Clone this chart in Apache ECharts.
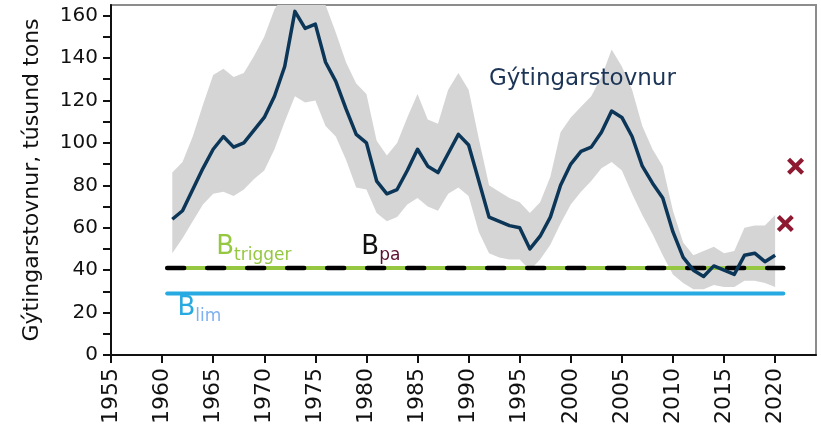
<!DOCTYPE html>
<html>
<head>
<meta charset="utf-8">
<script src="https://cdn.jsdelivr.net/npm/echarts@6/dist/echarts.min.js"></script>
<style>
html,body{margin:0;padding:0;background:#fff;}
#chart{width:821px;height:430px;}
</style>
</head>
<body>
<div id="chart"></div>
<script>
// ---- data ----
const years = [];
for (let y = 1961; y <= 2020; y++) years.push(y);

const biomass = [64,68,78,88,97,103,98,100,106,112,122,136,162,154,156,138,129,116,104,100,
  82,76,78,87,97,89,86,95,104,99,82,65,63,61,60,50,56,65,80,90,
  96,98,105,115,112,103,89,81,74,58,46,40,37,42,40,38,47,48,44,47];

const upper = [86,91,103,118,132,135,131,133,141,150,163,170,175,172,172,165,152,138,128,123,
  101,94,100,112,123,111,109,125,133,125,102,80,77,74,72,67,72,84,105,112,
  117,122,131,144,136,125,108,97,89,68,53,47,49,51,48,49,60,61,61,66];

const lower = [48,55,63,71,76,77,75,78,83,87,97,110,122,119,120,108,103,92,79,78,
  67,63,65,71,74,70,68,76,79,75,58,48,46,45,45,40,45,52,62,71,
  77,82,88,91,87,76,66,57,47,38,34,31,31,33,32,32,35,35,34,32];

const forecastYears = [2021, 2022];
const forecastValues = [62, 89];

const refStart = 1960.5, refEnd = 2020.8;
const bTrigger = 41;
const bPa = 41;
const bLim = 29;

const yLabelValues = [0,20,40,60,80,100,120,140,160];
const yTickValues = [0,10,20,30,40,50,60,70,80,90,100,110,120,130,140,150,160];
const xTickValues = [1955,1960,1965,1970,1975,1980,1985,1990,1995,2000,2005,2010,2015,2020];

const yAxisTitle = 'Gýtingarstovnur, túsund tons';
const stockLabel = 'Gýtingarstovnur';

// ---- build ----
const pair = (xs, ys) => xs.map((x, i) => [x, ys[i]]);
const FONT = 'DejaVu Sans';
const crossPath = 'path://M0,3.5 L3.5,0 L10,6.5 L16.5,0 L20,3.5 L13.5,10 L20,16.5 L16.5,20 L10,13.5 L3.5,20 L0,16.5 L6.5,10 Z';
const bandData = years.map((y, i) => [y, lower[i], upper[i]]);

const chart = echarts.init(document.getElementById('chart'), null, {renderer: 'canvas'});
chart.setOption({
  animation: false,
  backgroundColor: '#fff',
  grid: {left: 111, right: 5, top: 5, bottom: 75, show: true, borderColor: '#8c8c8c', borderWidth: 2, backgroundColor: 'transparent'},
  xAxis: {
    type: 'value', min: 1955, max: 2024, interval: 5,
    splitLine: {show: false},
    axisLine: {show: true, onZero: false, lineStyle: {color: '#111', width: 2}},
    axisTick: {show: true, length: 8, lineStyle: {color: '#111', width: 2}, customValues: xTickValues},
    axisLabel: {customValues: xTickValues, rotate: 90, margin: 13, fontFamily: FONT, fontSize: 22, color: '#111', formatter: v => String(v)}
  },
  yAxis: {
    type: 'value', min: 0, max: 165, interval: 10,
    splitLine: {show: false},
    name: yAxisTitle, nameLocation: 'middle', nameGap: 68, nameRotate: 90,
    nameTextStyle: {fontFamily: FONT, fontSize: 22, color: '#111'},
    axisLine: {show: true, lineStyle: {color: '#111', width: 2}},
    axisTick: {show: true, length: 8, lineStyle: {color: '#111', width: 2}, customValues: yTickValues},
    axisLabel: {customValues: yLabelValues, margin: 13, fontFamily: FONT, fontSize: 20, color: '#111', formatter: v => String(v)}
  },
  series: [
    {
      name: 'band', type: 'custom', data: bandData, silent: true, z: 1,
      encode: {x: 0, y: [1, 2]},
      renderItem: function (params, api) {
        if (params.dataIndex !== 0) return null;
        const top = [], bot = [];
        for (let i = 0; i < bandData.length; i++) {
          top.push(api.coord([bandData[i][0], bandData[i][2]]));
          bot.unshift(api.coord([bandData[i][0], bandData[i][1]]));
        }
        const cs = params.coordSys;
        return {
          type: 'polygon',
          shape: {points: top.concat(bot)},
          style: {fill: '#d5d5d5', stroke: null},
          clipPath: {type: 'rect', shape: {x: cs.x, y: cs.y, width: cs.width, height: cs.height}}
        };
      }
    },
    {
      name: 'Blim', type: 'line', data: [[refStart, bLim], [refEnd, bLim]],
      symbol: 'none', lineStyle: {color: '#27a9e1', width: 4, cap: 'round'}, z: 2
    },
    {
      name: 'Btrigger', type: 'line', data: [[refStart, bTrigger], [refEnd, bTrigger]],
      symbol: 'none', lineStyle: {color: '#95c840', width: 4}, z: 3
    },
    {
      name: 'Bpa', type: 'line', data: [[refStart, bPa], [refEnd, bPa]],
      symbol: 'none', lineStyle: {color: '#000', width: 4.5, type: [17, 23], cap: 'round'}, z: 4
    },
    {
      name: 'stock', type: 'line', data: pair(years, biomass),
      symbol: 'none', lineStyle: {color: '#0c3658', width: 3.5, join: 'round'}, z: 5
    },
    {
      name: 'forecast', type: 'scatter', data: pair(forecastYears, forecastValues),
      symbol: crossPath, symbolSize: 17, itemStyle: {color: '#8e1a32', opacity: 1}, z: 6
    },
    {
      name: 'labels', type: 'scatter', symbolSize: 0, silent: true, z: 7,
      itemStyle: {opacity: 1},
      data: [
        {value: [1965.3, 50], label: {formatter: '{b|B}{s|trigger}', rich: {b: {color: '#95c840'}, s: {color: '#95c840'}}}},
        {value: [1979.5, 50], label: {formatter: '{b|B}{s|pa}', rich: {b: {color: '#111'}, s: {color: '#5a1030'}}}},
        {value: [1961.5, 21], label: {formatter: '{b|B}{s|lim}', rich: {b: {color: '#27a9e1'}, s: {color: '#7fb0f0'}}}},
        {value: [1992, 130], label: {formatter: '{g|' + stockLabel + '}'}}
      ],
      label: {
        show: true, position: 'inside', align: 'left', verticalAlign: 'middle',
        rich: {
          b: {fontFamily: FONT, fontSize: 26, lineHeight: 30, verticalAlign: 'top'},
          s: {fontFamily: FONT, fontSize: 17, lineHeight: 16, verticalAlign: 'bottom'},
          g: {fontFamily: FONT, fontSize: 23, color: '#1c3557'}
        }
      }
    }
  ]
});
</script>
</body>
</html>
